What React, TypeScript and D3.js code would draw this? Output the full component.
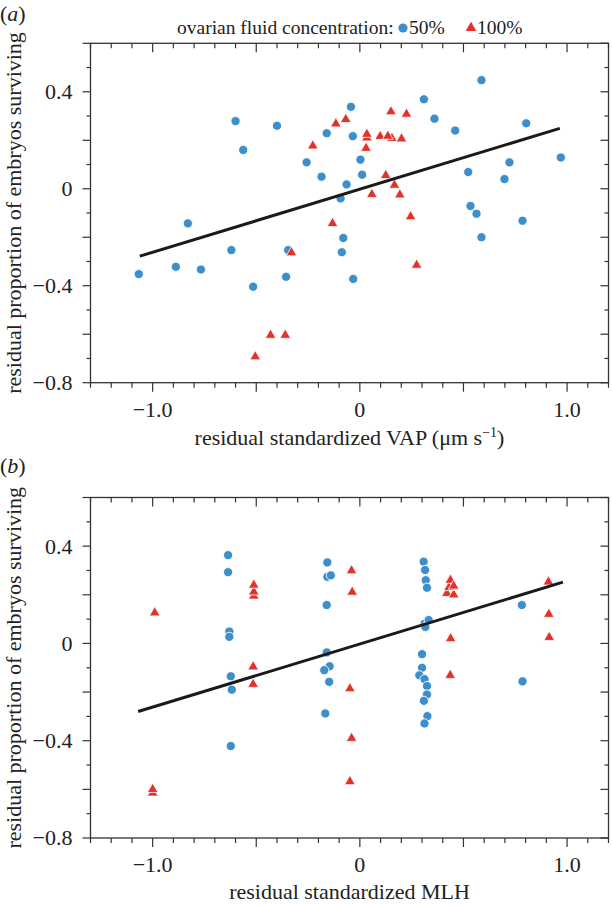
import React from "react";
import * as d3 from "d3";

// ---------- data ----------
// panel (a): residual standardized VAP vs residual proportion surviving
const aBlue: [number, number][] = [
  [-1.067, -0.352], [-0.888, -0.322], [-0.767, -0.333], [-0.83, -0.143], [-0.62, -0.253],
  [-0.6, 0.279], [-0.563, 0.16], [-0.515, -0.404], [-0.4, 0.26], [-0.356, -0.363],
  [-0.346, -0.253], [-0.257, 0.109], [-0.185, 0.05], [-0.16, 0.229], [-0.093, -0.04],
  [-0.087, -0.262], [-0.08, -0.203], [-0.064, 0.018], [-0.043, 0.338], [-0.034, 0.217],
  [-0.032, -0.372], [0.003, 0.12], [0.011, 0.058], [0.309, 0.369], [0.36, 0.289],
  [0.46, 0.24], [0.523, 0.069], [0.534, -0.071], [0.563, -0.103], [0.587, 0.448],
  [0.587, -0.2], [0.698, 0.04], [0.722, 0.109], [0.785, -0.132], [0.803, 0.27], [0.97, 0.129],
];
const aRed: [number, number][] = [
  [-0.505, -0.693], [-0.431, -0.604], [-0.36, -0.604], [-0.33, -0.264], [-0.227, 0.177],
  [-0.132, -0.143], [-0.116, 0.268], [-0.068, 0.286], [0.03, 0.167], [0.034, 0.21],
  [0.034, 0.225], [0.058, -0.023], [0.098, 0.216], [0.125, 0.055], [0.155, 0.208],
  [0.135, 0.217], [0.15, 0.318], [0.167, 0.015], [0.193, -0.025], [0.201, 0.206],
  [0.225, 0.308], [0.245, -0.115], [0.274, -0.315],
];
// panel (b): residual standardized MLH vs residual proportion surviving
const bBlue: [number, number][] = [
  [-0.636, 0.363], [-0.636, 0.293], [-0.63, 0.049], [-0.63, 0.027], [-0.623, -0.135],
  [-0.618, -0.19], [-0.623, -0.422],
  [-0.157, 0.333], [-0.157, 0.274], [-0.14, 0.28], [-0.16, 0.158], [-0.16, -0.037],
  [-0.146, -0.094], [-0.172, -0.11], [-0.148, -0.158], [-0.167, -0.288],
  [0.308, 0.336], [0.315, 0.302], [0.318, 0.26], [0.324, 0.229], [0.313, 0.082],
  [0.332, 0.096], [0.316, 0.068], [0.3, -0.044], [0.3, -0.1], [0.287, -0.131],
  [0.312, -0.147], [0.324, -0.175], [0.324, -0.21], [0.309, -0.236], [0.326, -0.299],
  [0.312, -0.329],
  [0.782, 0.158], [0.785, -0.156],
];
const bRed: [number, number][] = [
  [-0.99, 0.126], [-1.0, -0.615], [-1.0, -0.6],
  [-0.512, 0.195], [-0.512, 0.212], [-0.512, 0.24], [-0.515, -0.096], [-0.515, -0.168],
  [-0.04, 0.299], [-0.037, 0.211], [-0.048, -0.186], [-0.04, -0.39], [-0.048, -0.568],
  [0.42, 0.206], [0.453, 0.2], [0.43, 0.23], [0.437, 0.26], [0.453, 0.236],
  [0.438, 0.02], [0.436, -0.131],
  [0.91, 0.253], [0.912, 0.12], [0.914, 0.025],
];
// fitted regression lines (endpoints)
const aFitX = [-1.062, 0.965];
const aFitY = [-0.278, 0.249];
const bFitX = [-1.07, 0.98];
const bFitY = [-0.28, 0.252];

const xDomain = [-1.3, 1.2];
const yDomain = [-0.8, 0.6];
const xLabelTicks = [-1, 0, 1];
const yLabelTicks = [0.4, 0, -0.4, -0.8];

const legendTitle = "ovarian fluid concentration:";
const legendLabels = ["50%", "100%"];

// ---------- style ----------
const BLUE = "#3d8fcc";
const RED = "#e2332a";
const AXIS = "#333";
const FONT = "'Liberation Serif', 'Times New Roman', serif";
const LEFT = 90.5;
const RIGHT = 608.5;

const fmt = (v: number) =>
  v === 0 ? "0" : (v < 0 ? "\u2212" : "") + Math.abs(v).toFixed(1);

const triPath = d3.symbol(d3.symbolTriangle, 50)() as string;

function Panel({
  top, bottom, blue, red, fitX, fitY, label, labelY, xTitle, xTitleY, yTitleX,
}: any) {
  const x = d3.scaleLinear().domain(xDomain).range([LEFT, RIGHT]);
  const y = d3.scaleLinear().domain(yDomain).range([bottom, top]);
  const xTicks = d3.range(-13, 13).map((i) => i / 10);
  const yTicks = d3.range(-8, 7).map((i) => i / 10);
  const isMajX = (v: number) => Math.abs(Math.round(v * 2) - v * 2) < 1e-6;
  const isMajY = (v: number) => Math.abs(Math.round(v * 5) - v * 5) < 1e-6;
  const line = d3.line<number>().x((_, i) => x(fitX[i])).y((_, i) => y(fitY[i]));
  return (
    <g>
      {/* ticks */}
      {xTicks.map((v, i) => {
        const L = isMajX(v) ? 9 : 5;
        return (
          <g key={"xt" + i} stroke={AXIS} strokeWidth={1.2}>
            <line x1={x(v)} x2={x(v)} y1={bottom} y2={bottom + L} />
            <line x1={x(v)} x2={x(v)} y1={top} y2={top + L} />
          </g>
        );
      })}
      {yTicks.map((v, i) => {
        const L = isMajY(v) ? 8 : 4;
        return (
          <g key={"yt" + i} stroke={AXIS} strokeWidth={1.2}>
            <line x1={LEFT} x2={LEFT - L} y1={y(v)} y2={y(v)} />
            <line x1={RIGHT} x2={RIGHT - L} y1={y(v)} y2={y(v)} />
          </g>
        );
      })}
      <rect x={LEFT} y={top} width={RIGHT - LEFT} height={bottom - top}
        fill="none" stroke={AXIS} strokeWidth={1.3} />
      {/* tick labels */}
      {xLabelTicks.map((v) => (
        <text key={"xl" + v} x={x(v)} y={bottom + 34} textAnchor="middle"
          fontFamily={FONT} fontSize={22} fill="#222">{fmt(v)}</text>
      ))}
      {yLabelTicks.map((v) => (
        <text key={"yl" + v} x={LEFT - 18} y={y(v)} dy="0.34em" textAnchor="end"
          fontFamily={FONT} fontSize={22} fill="#222">{fmt(v)}</text>
      ))}
      {/* axis titles */}
      <text x={(LEFT + RIGHT) / 2} y={xTitleY} textAnchor="middle" fontFamily={FONT} fontSize={22} fill="#222">
        {xTitle}
      </text>
      <text transform={`translate(${yTitleX},${(top + bottom) / 2}) rotate(-90)`}
        textAnchor="middle" fontFamily={FONT} fontSize={22} fill="#222">
        residual proportion of embryos surviving
      </text>
      {/* panel label */}
      <text x={0} y={labelY} fontFamily={FONT} fontSize={22} fill="#222">
        (<tspan fontStyle="italic">{label}</tspan>)
      </text>
      {/* points */}
      {blue.map((d: [number, number], i: number) => (
        <circle key={"b" + i} cx={x(d[0])} cy={y(d[1])} r={4.6} fill={BLUE}
          stroke="#fff" strokeWidth={0.9} />
      ))}
      {red.map((d: [number, number], i: number) => (
        <path key={"r" + i} d={triPath} transform={`translate(${x(d[0])},${y(d[1])})`}
          fill={RED} stroke="#fff" strokeWidth={0.8} />
      ))}
      {/* regression line */}
      <path d={line([0, 1]) as string} stroke="#1a1a1a" strokeWidth={3} fill="none" />
    </g>
  );
}

export default function App() {
  return (
    <svg width={612} height={907} style={{ position: "absolute", left: 0, top: 0, background: "#fff" }}>
      <rect width={612} height={907} fill="#fff" />
      {/* legend */}
      <g fontFamily={FONT} fontSize={19.5} fill="#222">
        <text x={177} y={34}>{legendTitle}</text>
        <circle cx={403} cy={28} r={4.6} fill={BLUE} />
        <text x={409} y={34}>{legendLabels[0]}</text>
        <path d={triPath} transform="translate(471,28)" fill={RED} />
        <text x={477} y={34}>{legendLabels[1]}</text>
      </g>
      <Panel top={43.3} bottom={382.7} blue={aBlue} red={aRed} fitX={aFitX} fitY={aFitY}
        label="a" labelY={21} xTitleY={445} yTitleX={21}
        xTitle={<>residual standardized VAP (μm s<tspan dy={-8} fontSize={14}>−1</tspan><tspan dy={8}>)</tspan></>} />
      <Panel top={497.5} bottom={838} blue={bBlue} red={bRed} fitX={bFitX} fitY={bFitY}
        label="b" labelY={473} xTitleY={899} yTitleX={21}
        xTitle={<>residual standardized MLH</>} />
    </svg>
  );
}
